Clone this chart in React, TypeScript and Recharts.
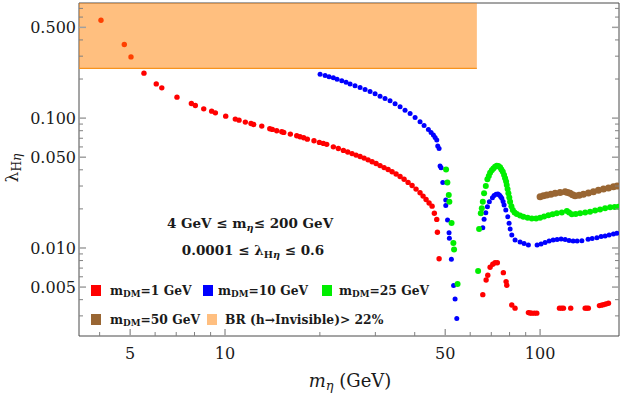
import React from 'react';
import {
  ScatterChart,
  Scatter,
  XAxis,
  YAxis,
  ReferenceArea,
  ReferenceLine,
} from 'recharts';

const X_MIN = 3.44;
const X_MAX = 178;
const Y_MIN = 0.0021;
const Y_MAX = 0.77;

const xMajorTicks = [5, 10, 50, 100];
const xMinorTicks = [4, 6, 7, 8, 9, 20, 30, 40, 60, 70, 80, 90];
const yMajorTicks = [0.005, 0.01, 0.05, 0.1, 0.5];
const yMinorTicks = [
  0.003, 0.004, 0.006, 0.007, 0.008, 0.009, 0.02, 0.03, 0.04, 0.06, 0.07, 0.08, 0.09,
  0.2, 0.3, 0.4, 0.6, 0.7,
];

// BR(h -> invisible) > 22% region
const brMassLimit = 63;
const brLambdaLimit = 0.242;

// [m_eta (GeV), lambda_H_eta]
const mDM1: [number, number][] = [
  [4.04, 0.567], [4.79, 0.369], [5.03, 0.296], [5.53, 0.222], [6.05, 0.1835], [6.3, 0.171],
  [7.04, 0.145], [7.82, 0.1297], [8.05, 0.1252], [8.56, 0.1179], [9.07, 0.1132], [9.32, 0.1098],
  [10.05, 0.1036], [10.78, 0.0983], [11.08, 0.0965], [11.6, 0.0932], [12.09, 0.091], [12.33, 0.0894],
  [13.08, 0.0868], [13.87, 0.0828], [14.13, 0.0819], [14.59, 0.0799], [15.14, 0.0785], [15.36, 0.0776],
  [16.12, 0.0753], [16.89, 0.0731], [17.3, 0.0718], [17.77, 0.0706], [18.25, 0.0689], [19.16, 0.0669],
  [19.93, 0.065], [20.52, 0.0639], [21.03, 0.0628], [22.07, 0.0601], [22.89, 0.0584], [23.75, 0.0564],
  [24.52, 0.0548], [25.3, 0.0533], [26.05, 0.0519], [26.83, 0.0506], [27.63, 0.0492], [28.44, 0.0477],
  [29.29, 0.0461], [30.16, 0.0447], [31.05, 0.0431], [31.98, 0.0416], [32.93, 0.0402], [33.9, 0.0386],
  [34.91, 0.0371], [35.94, 0.0355], [37.01, 0.0338], [38.11, 0.032], [39.24, 0.0303], [40.39, 0.0284],
  [41.59, 0.0266], [42.52, 0.0251], [43.46, 0.0236], [44.43, 0.0222], [45.42, 0.021],
  [46.17, 0.0185], [46.99, 0.0166], [47.21, 0.0132], [47.8, 0.00827],
  [65.79, 0.00437], [67.4, 0.00567], [68.23, 0.00617], [69.39, 0.00711], [70.76, 0.00749],
  [71.96, 0.0077], [73.18, 0.0077], [76.46, 0.00646], [78.0, 0.00551], [78.39, 0.00517],
  [81.3, 0.00364], [83.28, 0.00344], [91.81, 0.00318], [92.9, 0.00316], [94.12, 0.00315],
  [95.9, 0.00315], [97.61, 0.00315], [115.2, 0.00344], [117.0, 0.00344], [118.6, 0.00344],
  [125.1, 0.00344], [139.0, 0.00344], [140.6, 0.00344], [142.3, 0.00344], [154.3, 0.0036],
  [156.6, 0.00363], [158.9, 0.00366], [161.8, 0.0037], [164.8, 0.00375],
];

const mDM10: [number, number][] = [
  [20.03, 0.218], [20.78, 0.213], [21.39, 0.2086], [22.07, 0.2042], [22.68, 0.1995], [23.47, 0.1936],
  [24.22, 0.1886], [24.94, 0.1835], [25.86, 0.1778], [26.83, 0.1722], [27.83, 0.1663], [28.86, 0.1605],
  [29.94, 0.1541], [31.05, 0.1476], [32.2, 0.1417], [33.4, 0.1358], [34.65, 0.1291], [35.94, 0.1221],
  [37.27, 0.1152], [38.67, 0.1087], [40.11, 0.1012], [41.59, 0.0936], [42.83, 0.0876], [44.2, 0.0819],
  [45.08, 0.0774], [45.85, 0.074], [46.42, 0.0708], [46.99, 0.0677], [47.33, 0.0609], [47.8, 0.0584],
  [48.14, 0.0427], [48.5, 0.0415], [49.11, 0.032], [50.19, 0.0234], [50.19, 0.0212], [50.85, 0.0164],
  [51.41, 0.0131], [51.53, 0.0119], [52.29, 0.00818], [53.14, 0.00515], [53.72, 0.00405], [54.39, 0.00286],
  [65.79, 0.01433], [66.41, 0.01663], [67.24, 0.01869], [68.04, 0.02078], [69.02, 0.02271], [70.58, 0.02437],
  [71.45, 0.02534], [72.49, 0.02589], [73.45, 0.02603], [74.27, 0.02557], [74.92, 0.0249], [75.58, 0.02412],
  [76.3, 0.02279], [76.86, 0.02142], [77.83, 0.0196], [78.98, 0.01741], [79.73, 0.01549], [80.32, 0.014],
  [81.32, 0.01259], [83.29, 0.01152], [86.39, 0.01112], [88.96, 0.01083], [91.81, 0.01055], [97.84, 0.01055],
  [100.7, 0.01074], [103.7, 0.01102], [106.8, 0.01132], [110.0, 0.01152], [113.2, 0.01162], [116.6, 0.01173],
  [120.1, 0.01162], [123.6, 0.01142], [127.3, 0.01132], [131.1, 0.01132], [135.7, 0.01138], [142.0, 0.01167],
  [146.3, 0.01183], [151.4, 0.012], [156.2, 0.01226], [160.8, 0.01237], [165.6, 0.01259], [170.9, 0.01282],
  [175.2, 0.01297],
];

const mDM25: [number, number][] = [
  [50.3, 0.0403], [50.78, 0.032], [51.3, 0.0256], [51.53, 0.0227], [52.36, 0.01557], [53.06, 0.01093],
  [53.33, 0.00974], [54.71, 0.00528], [63.57, 0.00665],
  [64.03, 0.014], [64.83, 0.0185], [65.3, 0.0202], [65.79, 0.0227], [66.41, 0.0264], [67.24, 0.03],
  [68.04, 0.0338], [68.73, 0.0358], [69.39, 0.038], [70.26, 0.0396], [71.07, 0.041], [71.96, 0.0422],
  [72.86, 0.043], [73.72, 0.0427], [74.65, 0.0418], [75.36, 0.0403], [76.14, 0.0386], [76.86, 0.0364],
  [77.43, 0.0344], [78.0, 0.0325], [78.39, 0.0305], [78.85, 0.0284], [79.32, 0.0264], [79.84, 0.0245],
  [80.32, 0.0227], [81.08, 0.021], [81.91, 0.0196], [82.99, 0.0188], [84.33, 0.0183], [86.39, 0.0178],
  [88.51, 0.0174], [91.27, 0.0171], [94.12, 0.0169], [97.12, 0.0169], [100.0, 0.0171], [102.97, 0.0175],
  [106.3, 0.0179], [109.6, 0.0182], [113.0, 0.0185], [117.2, 0.0188], [121.6, 0.0193], [123.6, 0.0188],
  [126.1, 0.0182], [129.7, 0.0183], [134.0, 0.0185], [139.0, 0.0188], [144.1, 0.019], [149.5, 0.0194],
  [155.0, 0.0198], [160.8, 0.0202], [166.8, 0.0206], [172.4, 0.0207], [177.3, 0.0208],
];

const mDM50: [number, number][] = [
  [100.0, 0.0248], [102.45, 0.0252], [105.0, 0.0256], [108.2, 0.0259], [111.6, 0.0264], [115.7, 0.0267],
  [120.1, 0.0271], [122.3, 0.0268], [124.5, 0.0264], [126.8, 0.0257], [129.1, 0.0253], [133.0, 0.0255],
  [137.2, 0.0259], [142.3, 0.0265], [147.6, 0.0271], [153.1, 0.0278], [158.9, 0.0284], [164.8, 0.029],
  [170.9, 0.0296], [175.6, 0.03],
];

const toPoints = (rows: [number, number][]) => rows.map(([x, y]) => ({ x, y }));

const frameColor = '#4a4a4a';
const majorTickColor = '#a0a0a0';
const minorTickColor = '#808080';
const labelFont = '"DejaVu Serif", serif';
const textColor = '#1a1a1a';

const xTicks = [...xMinorTicks, ...xMajorTicks].sort((a, b) => a - b);
const yTicks = [...yMinorTicks, ...yMajorTicks].sort((a, b) => a - b);

const tickLen = (major: boolean) => (major ? 7 : 4);

const BottomTick = ({ x, y, payload }: any) => {
  const major = xMajorTicks.includes(payload.value);
  return (
    <g>
      <line x1={x} x2={x} y1={y} y2={y - tickLen(major)} stroke={major ? majorTickColor : minorTickColor} strokeWidth={major ? 1.5 : 1} />
      {major && (
        <text x={x} y={y + 23} textAnchor="middle" fontFamily={labelFont} fontSize={16} fill={textColor}>
          {payload.value}
        </text>
      )}
    </g>
  );
};

const TopTick = ({ x, y, payload }: any) => {
  const major = xMajorTicks.includes(payload.value);
  return (
    <line x1={x} x2={x} y1={y} y2={y + tickLen(major)} stroke={major ? majorTickColor : minorTickColor} strokeWidth={major ? 1.5 : 1} />
  );
};

const LeftTick = ({ x, y, payload }: any) => {
  const major = yMajorTicks.includes(payload.value);
  return (
    <g>
      <line x1={x} x2={x + tickLen(major)} y1={y} y2={y} stroke={major ? majorTickColor : minorTickColor} strokeWidth={major ? 1.5 : 1} />
      {major && (
        <text x={x - 3} y={y} dy="0.36em" textAnchor="end" fontFamily={labelFont} fontSize={16} fill={textColor}>
          {payload.value.toFixed(3)}
        </text>
      )}
    </g>
  );
};

const RightTick = ({ x, y, payload }: any) => {
  const major = yMajorTicks.includes(payload.value);
  return (
    <line x1={x} x2={x - tickLen(major)} y1={y} y2={y} stroke={major ? majorTickColor : minorTickColor} strokeWidth={major ? 1.5 : 1} />
  );
};

const dot = (r: number, color: string) => (p: any) => <circle cx={p.cx} cy={p.cy} r={r} fill={color} />;

const Sub = ({ children }: { children: React.ReactNode }) => (
  <sub style={{ fontSize: '0.72em', verticalAlign: '-0.28em', lineHeight: 0 }}>{children}</sub>
);

const legendItems = [
  { color: '#FF0000', left: 91, textLeft: 110, top: 283, label: <>m<Sub>DM</Sub>=1 GeV</> },
  { color: '#0000FF', left: 203, textLeft: 218, top: 283, label: <>m<Sub>DM</Sub>=10 GeV</> },
  { color: '#00EE00', left: 322, textLeft: 339, top: 283, label: <>m<Sub>DM</Sub>=25 GeV</> },
  { color: '#996633', left: 91, textLeft: 110, top: 312, label: <>m<Sub>DM</Sub>=50 GeV</> },
  { color: '#FFBF80', left: 207, textLeft: 225, top: 312, label: <>BR (h→Invisible)&gt; 22%</> },
];

const App = () => {
  return (
    <div style={{ position: 'absolute', left: 0, top: 0, width: 623, height: 393, background: '#fff', fontFamily: labelFont, color: textColor }}>
      <ScatterChart width={623} height={393} margin={{ top: 2, right: 3, bottom: 27, left: 0 }}>
        <XAxis
          dataKey="x"
          type="number"
          scale="log"
          domain={[X_MIN, X_MAX]}
          allowDataOverflow
          ticks={xTicks}
          interval={0}
          height={30}
          tickSize={0}
          tickMargin={0}
          tickLine={false}
          stroke={frameColor}
          tick={BottomTick}
        />
        <XAxis
          xAxisId="top"
          orientation="top"
          type="number"
          scale="log"
          domain={[X_MIN, X_MAX]}
          allowDataOverflow
          ticks={xTicks}
          interval={0}
          height={1}
          tickSize={0}
          tickMargin={0}
          tickLine={false}
          stroke={frameColor}
          tick={TopTick}
        />
        <YAxis
          dataKey="y"
          type="number"
          scale="log"
          domain={[Y_MIN, Y_MAX]}
          allowDataOverflow
          ticks={yTicks}
          interval={0}
          width={79}
          tickSize={0}
          tickMargin={0}
          tickLine={false}
          stroke={frameColor}
          tick={LeftTick}
        />
        <YAxis
          yAxisId="right"
          orientation="right"
          type="number"
          scale="log"
          domain={[Y_MIN, Y_MAX]}
          allowDataOverflow
          ticks={yTicks}
          interval={0}
          width={1}
          tickSize={0}
          tickMargin={0}
          tickLine={false}
          stroke={frameColor}
          tick={RightTick}
        />
        <Scatter data={toPoints(mDM1)} fill="#FF0000" isAnimationActive={false} shape={dot(2.7, '#FF0000')} />
        <Scatter data={toPoints(mDM10)} fill="#0000FF" isAnimationActive={false} shape={dot(2.5, '#0000FF')} />
        <Scatter data={toPoints(mDM25)} fill="#00EE00" isAnimationActive={false} shape={dot(3, '#00EE00')} />
        <Scatter data={toPoints(mDM50)} fill="#996633" isAnimationActive={false} shape={dot(3.5, '#996633')} />
        <ReferenceArea
          x1={X_MIN}
          x2={brMassLimit}
          y1={brLambdaLimit}
          y2={Y_MAX}
          fill="#FF8000"
          fillOpacity={0.5}
          stroke="none"
          ifOverflow="hidden"
          zIndex={1000}
        />
        <ReferenceLine
          segment={[{ x: X_MIN, y: brLambdaLimit }, { x: brMassLimit, y: brLambdaLimit }]}
          stroke="#F7931E"
          strokeWidth={1.2}
          zIndex={1001}
        />
      </ScatterChart>

      <div style={{ position: 'absolute', left: 150, width: 200, top: 215, textAlign: 'center', fontWeight: 'bold', fontSize: 13.5, lineHeight: '16px', whiteSpace: 'nowrap' }}>
        4 GeV ≤ m<Sub><i>η</i></Sub>≤ 200 GeV
      </div>
      <div style={{ position: 'absolute', left: 150, width: 206, top: 242, textAlign: 'center', fontWeight: 'bold', fontSize: 13.5, lineHeight: '16px', whiteSpace: 'nowrap' }}>
        0.0001 ≤ λ<Sub>H<i>η</i></Sub> ≤ 0.6
      </div>

      {legendItems.map((item, i) => (
        <React.Fragment key={i}>
          <div style={{ position: 'absolute', left: item.left, top: item.top + 2, width: 10, height: 11, background: item.color }} />
          <div style={{ position: 'absolute', left: item.textLeft, top: item.top, fontWeight: 'bold', fontSize: 12.3, lineHeight: '16px', whiteSpace: 'nowrap' }}>
            {item.label}
          </div>
        </React.Fragment>
      ))}

      <div style={{ position: 'absolute', left: 350, top: 380, transform: 'translate(-50%, -50%)', fontSize: 18, whiteSpace: 'nowrap' }}>
        <i>m</i><Sub><i>η</i></Sub> (GeV)
      </div>
      <div style={{ position: 'absolute', left: 12, top: 168, transform: 'translate(-50%, -50%) rotate(-90deg)', fontSize: 17, whiteSpace: 'nowrap' }}>
        λ<Sub>H<i>η</i></Sub>
      </div>
    </div>
  );
};

export default App;
